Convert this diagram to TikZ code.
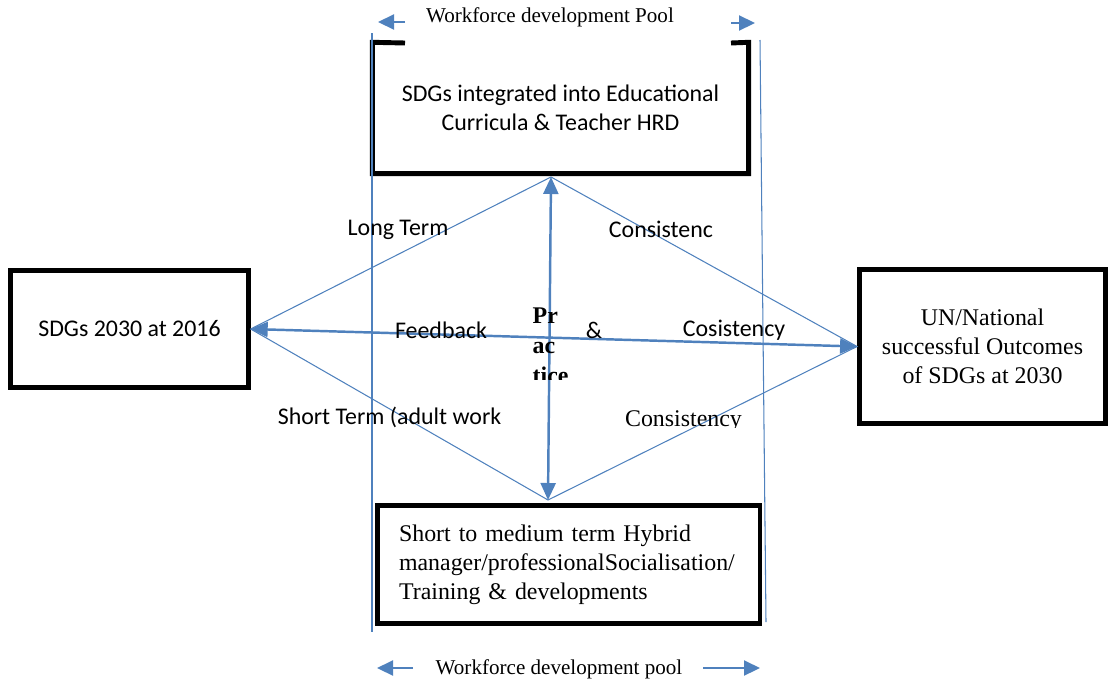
\documentclass[tikz,border=0pt]{standalone}
\usepackage{fontspec}
\setmainfont{Liberation Serif}
\newfontfamily\calib{Carlito}
\usetikzlibrary{arrows.meta,positioning}
\definecolor{lineblue}{RGB}{79,129,189}

\begin{document}
\begin{tikzpicture}[x=0.02cm, y=-0.02cm, thick]

	\tikzstyle{box}=[rectangle, line width=2.8pt, draw=black, inner sep=0pt]
	\tikzstyle{lbl}=[inner sep=0pt, font=\calib\fontsize{13.6}{16.8}\selectfont]
	\tikzstyle{ser}=[inner sep=0pt, font=\fontsize{13.6}{16.4}\selectfont]
	\tikzstyle{pool}=[inner sep=0pt, font=\fontsize{12}{14}\selectfont]
	\tikzstyle{thinline}=[lineblue, line width=0.6pt]
	\tikzstyle{mainarrow}=[lineblue, line width=1.4pt, {Triangle[length=0.34cm, width=0.3cm]}-{Triangle[length=0.34cm, width=0.3cm]}]
	\tikzstyle{poolarrow}=[lineblue, line width=1.2pt, -{Triangle[length=0.32cm, width=0.3cm]}]

	\useasboundingbox (0,0) rectangle (1111,683);

	% the four boxes
	\node[box, lbl, minimum width=4.75cm, minimum height=2.34cm] (sdg) at (129.5,329) {SDGs 2030 at 2016};
	\node[box, ser, minimum width=4.92cm, minimum height=3.08cm, align=center] (out) at (982.5,346.5) {UN/National\\successful Outcomes\\of SDGs at 2030};
	\node[lbl, minimum width=7.5cm, minimum height=2.6cm, align=center] (edu) at (560.5,108) {SDGs integrated into Educational\\Curricula \& Teacher HRD};
	\draw[line width=2.8pt] (405,43) -- (edu.north west) -- (edu.south west) -- (edu.south east) -- (edu.north east) -- (731,43);
	\node[box, ser, minimum width=7.64cm, minimum height=2.36cm, inner xsep=0.44cm, text width=6.78cm, align=left] (hyb) at (568.5,564.5) {Short to medium term Hybrid\\manager/professionalSocialisation/\\Training \& developments};

	% workforce pool bounds
	\coordinate (lt) at (372,33);
	\coordinate (lb) at (372,632);
	\coordinate (rt) at (760,40);
	\coordinate (rb) at (766,622);
	\draw[thinline] (lt) -- (lb);
	\draw[thinline] (rt) -- (rb);

	\node[pool] (wtop) at (550,17) {Workforce development Pool};
	\coordinate (wtl) at (405,22);
	\coordinate (wtl2) at (378,22);
	\coordinate (wtr) at (731,23);
	\coordinate (wtr2) at (755,23);
	\draw[poolarrow] (wtl) -- (wtl2);
	\draw[poolarrow] (wtr) -- (wtr2);

	\node[pool] (wbot) at (559,669) {Workforce development pool};
	\coordinate (wbl) at (413,668);
	\coordinate (wbl2) at (377,668);
	\coordinate (wbr) at (703,668);
	\coordinate (wbr2) at (760,668);
	\draw[poolarrow] (wbl) -- (wbl2);
	\draw[poolarrow] (wbr) -- (wbr2);

	% diamond links
	\coordinate (top) at (551,177);
	\coordinate (bot) at (548,500);
	\draw[thinline] (sdg.east) -- (top) -- (out.west) -- (bot) -- cycle;
	\draw[mainarrow] (sdg.east) -- (out.west);
	\draw[mainarrow] (top) -- (bot);

	% link labels
	\node[lbl] (lterm) at (398,230) {Long Term};
	\node[lbl] (cons1) at (661,229) {Consistenc};
	\node[lbl] (fb) at (441,330) {Feedback};
	\node[lbl] (amp) at (594,330) {\&};
	\node[lbl] (cosis) at (734,330) {Cosistency};
	\node[lbl] (sterm) at (389.5,417) {Short Term (adult work};
	\begin{scope}
		\clip (600,400) rectangle (760,427);
		\node[ser] (cons2) at (683.5,421) {Consistency};
	\end{scope}
	\begin{scope}
		\clip (520,295) rectangle (590,379);
		\node[ser, font=\bfseries\fontsize{13.6}{17}\selectfont, align=left, anchor=north west] (prac) at (532,307) {Pr\\ac\\tice};
	\end{scope}

\end{tikzpicture}
\end{document}
